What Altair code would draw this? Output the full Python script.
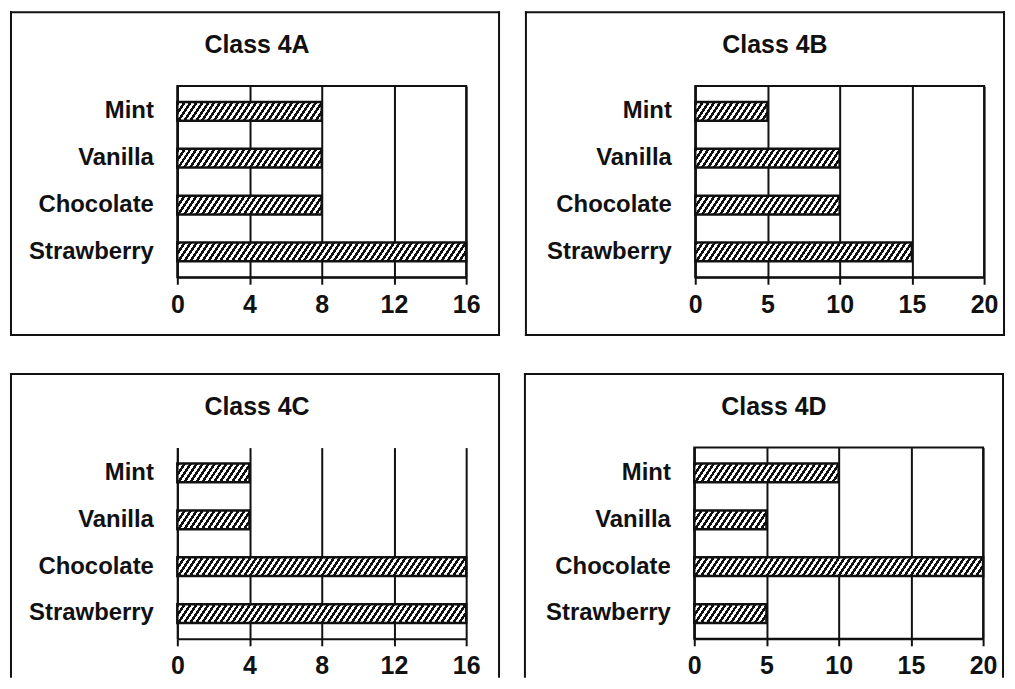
import altair as alt
import pandas as pd

# ---- data ----
flavors = ["Mint", "Vanilla", "Chocolate", "Strawberry"]
titles = ["Class 4A", "Class 4B", "Class 4C", "Class 4D"]
values_4a = [8, 8, 8, 16]
values_4b = [5, 10, 10, 15]
values_4c = [4, 4, 16, 16]
values_4d = [10, 5, 20, 5]
axis_max = [16, 20, 16, 20]
ticks_16 = [0, 4, 8, 12, 16]
ticks_20 = [0, 5, 10, 15, 20]

# ---- styling / layout ----
FONT = "Liberation Sans"
INK = "#111111"
PLOT_W, PLOT_H = 290, 192
PAD_IN, PAD_OUT = 0.6, 0.34
STEP = PLOT_H / (len(flavors) - PAD_IN + 2 * PAD_OUT)
BAND = STEP * (1 - PAD_IN)
BOX_TOP = -74


def hatch(width_px, height_px, period=6.0, slope=1.5, dark=0.5):
    """Diagonal '/' hatching built as a hard-stop linear gradient."""
    alpha = width_px / period
    beta = height_px / (slope * period)
    total = alpha + beta
    norm = alpha ** 2 + beta ** 2
    x2 = alpha * total / norm
    y2 = beta * total / norm
    stops = []
    i = 0
    while i < total:
        a = round(i / total, 5)
        b = round(min((i + dark) / total, 1.0), 5)
        c = round(min((i + 1) / total, 1.0), 5)
        stops += [
            alt.GradientStop(color=INK, offset=a),
            alt.GradientStop(color=INK, offset=b),
            alt.GradientStop(color="white", offset=b),
            alt.GradientStop(color="white", offset=c),
        ]
        i += 1
    return alt.LinearGradient(gradient="linear", stops=stops,
                              x1=0, y1=0, x2=round(x2, 5), y2=round(y2, 5))


def frame_rule(df, **enc):
    return alt.Chart(df).mark_rule(
        color=INK, strokeWidth=2, strokeCap="square"
    ).encode(**{k: alt.value(v) for k, v in enc.items()})


def panel(title, values, xmax, ticks, left, right, bottom, closed=True,
          top_border=True):
    x_enc = alt.X("count:Q",
                  scale=alt.Scale(domain=[0, xmax], nice=False, zero=True),
                  axis=alt.Axis(values=ticks, title=None, format="d"))
    y_enc = alt.Y("flavor:N", sort=flavors,
                  scale=alt.Scale(domain=flavors, paddingInner=PAD_IN,
                                  paddingOuter=PAD_OUT),
                  axis=alt.Axis(title=None))
    frame_df = pd.DataFrame({"title": [title]})
    xl, xr = -left, PLOT_W + right
    layers = [
        frame_rule(frame_df, x=xl, x2=xr, y=BOX_TOP),
        frame_rule(frame_df, x=xl, y=BOX_TOP, y2=bottom),
        frame_rule(frame_df, x=xr, y=BOX_TOP, y2=bottom),
    ]
    if closed:
        layers.append(frame_rule(frame_df, x=xl, x2=xr, y=bottom))
    layers.append(
        alt.Chart(frame_df).mark_text(
            font=FONT, fontSize=25, fontWeight="bold", color=INK,
            align="center", baseline="middle"
        ).encode(text="title:N", x=alt.value(80), y=alt.value(-41))
    )
    for f, v in zip(flavors, values):
        w = v / xmax * PLOT_W
        df = pd.DataFrame({"flavor": [f], "count": [v]})
        layers.append(
            alt.Chart(df).mark_bar(
                fill=hatch(w, BAND), stroke=INK, strokeWidth=2.5
            ).encode(x=x_enc, y=y_enc)
        )
    props = dict(width=PLOT_W, height=PLOT_H)
    if not top_border:
        props["view"] = alt.ViewBackground(strokeOpacity=0)
    return alt.layer(*layers).properties(**props)


p1 = panel(titles[0], values_4a, axis_max[0], ticks_16, 167, 33, 250)
p2 = panel(titles[1], values_4b, axis_max[1], ticks_20, 170, 20, 250)
p3 = panel(titles[2], values_4c, axis_max[2], ticks_16, 167, 33, 230,
           closed=False, top_border=False)
p4 = panel(titles[3], values_4d, axis_max[3], ticks_20, 170, 20, 230,
           closed=False)

chart = alt.vconcat(
    alt.hconcat(p1, p2, spacing=21),
    alt.hconcat(p3, p4, spacing=21),
    spacing=33,
).properties(
    padding=0, background="white"
).configure_view(
    stroke=INK, strokeWidth=2
).configure_axis(
    domainColor=INK, domainWidth=2, labelFont=FONT,
    labelFontWeight="bold", labelColor=INK
).configure_axisX(
    grid=True, gridColor=INK, gridWidth=2, gridOpacity=1,
    ticks=True, tickColor=INK, tickWidth=2, tickSize=7,
    labelFontSize=25, labelPadding=8, labelFlush=False
).configure_axisY(
    grid=False, ticks=False, tickSize=0, labelFontSize=24, labelPadding=24
)

chart.save("out.html", embed_options={"renderer": "svg", "actions": False})
